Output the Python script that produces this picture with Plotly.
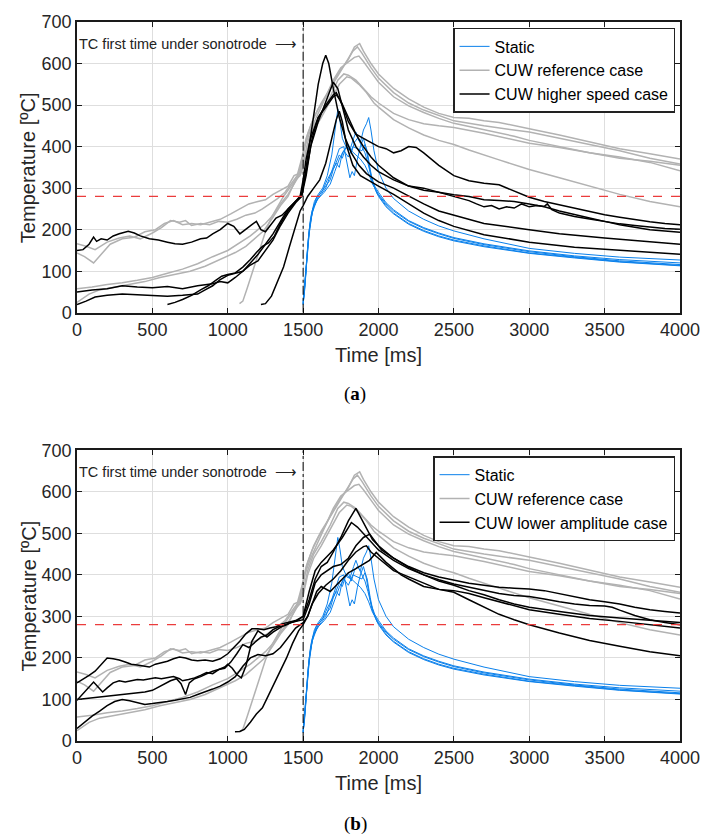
import plotly.graph_objects as go

# ---------------- data (time [ms], temperature [degC]) ----------------
STATIC_1 = [(1500,22),(1512,60),(1530,160),(1550,230),(1575,268),(1600,285),(1630,300),(1660,330),(1690,380),(1710,440),(1730,490),(1745,460),(1760,420),(1790,395),(1820,390),(1850,380),(1880,370),(1910,355),(1935,335),(1960,310),(2000,285),(2050,262),(2100,245),(2200,220),(2300,203),(2400,190),(2500,179),(2700,164),(3000,147),(3300,135),(3600,125),(4000,116)]
STATIC_2 = [(1500,20),(1515,80),(1535,180),(1560,245),(1590,278),(1620,290),(1650,305),(1680,320),(1700,345),(1720,365),(1740,380),(1760,372),(1780,395),(1800,405),(1820,385),(1840,410),(1860,420),(1880,410),(1900,440),(1920,455),(1935,470),(1950,440),(1970,390),(2000,340),(2050,300),(2100,275),(2200,245),(2300,225),(2400,209),(2500,197),(2700,178),(3000,155),(3300,143),(3600,134),(4000,127)]
STATIC_3 = [(1500,25),(1520,110),(1540,200),(1565,250),(1600,280),(1630,295),(1660,320),(1690,340),(1720,360),(1740,350),(1760,385),(1790,400),(1810,392),(1835,420),(1850,435),(1870,415),(1890,400),(1910,385),(1930,360),(1950,330),(1975,305),(2000,290),(2050,265),(2100,248),(2200,222),(2300,205),(2400,192),(2500,181),(2700,166),(3000,149),(3300,137),(3600,128),(4000,120)]
STATIC_4 = [(1500,20),(1518,90),(1540,190),(1560,240),(1590,270),(1620,285),(1650,300),(1680,330),(1710,360),(1740,395),(1770,400),(1790,360),(1810,325),(1825,340),(1840,330),(1860,370),(1880,400),(1900,420),(1915,400),(1935,360),(1955,320),(1980,295),(2000,280),(2050,255),(2100,238),(2200,213),(2300,196),(2400,183),(2500,173),(2700,159),(3000,143),(3300,132),(3600,122),(4000,113)]
STATIC_5 = [(1500,22),(1520,100),(1545,215),(1570,255),(1600,275),(1640,290),(1680,310),(1710,340),(1740,370),(1770,390),(1800,375),(1830,400),(1860,395),(1890,390),(1910,405),(1925,390),(1945,345),(1965,310),(1990,288),(2050,258),(2100,240),(2200,215),(2300,198),(2400,185),(2500,175),(2700,161),(3000,144),(3300,133),(3600,123),(4000,114)]

REF_1 = [(0,166),(60,160),(120,152),(200,170),(280,180),(350,185),(420,178),(500,192),(560,205),(620,222),(680,218),(720,222),(760,210),(820,215),(880,212),(940,220),(1000,218),(1060,225),(1120,235),(1180,240),(1230,250),(1280,262),(1330,275),(1380,290),(1420,310),(1460,330),(1490,370),(1520,420),(1560,460),(1600,490),(1650,520),(1700,555),(1750,585),(1800,610),(1840,640),(1875,648),(1900,630),(1950,600),(2000,575),(2100,540),(2200,515),(2300,495),(2400,480),(2500,470),(2600,468),(2700,462),(2800,458),(2900,450),(3000,443),(3200,428),(3400,412),(3600,395),(3800,383),(4000,370)]
REF_2 = [(0,144),(50,135),(110,120),(160,140),(220,165),(300,178),(380,182),(450,195),(520,200),(580,215),(640,222),(700,212),(760,215),(820,212),(880,218),(950,225),(1020,238),(1080,250),(1140,262),(1200,268),(1250,272),(1300,285),(1350,295),(1400,305),(1440,330),(1470,335),(1500,380),(1530,430),(1570,470),(1620,505),(1680,540),(1740,575),(1790,605),(1830,630),(1860,640),(1890,625),(1950,590),(2000,565),(2100,530),(2200,505),(2300,488),(2400,475),(2500,462),(2700,450),(2900,440),(3000,435),(3200,420),(3400,405),(3600,390),(3800,372),(4000,358)]
REF_3 = [(0,58),(100,62),(200,68),(300,72),(400,78),(500,85),(600,95),(700,105),(800,118),(900,135),(1000,150),(1100,172),(1150,185),(1200,200),(1250,215),(1300,235),(1350,262),(1400,285),(1440,310),(1480,335),(1500,360),(1530,410),(1570,450),(1620,480),(1680,520),(1730,560),(1770,575),(1800,572),(1850,560),(1900,540),(1950,520),(2000,505),(2100,480),(2200,465),(2300,455),(2400,450),(2500,446),(2700,432),(2900,415),(3000,408),(3200,398),(3400,385),(3600,375),(3800,362),(4000,342)]
REF_4 = [(0,25),(80,45),(150,55),(250,62),(350,68),(450,75),(550,85),(650,92),(750,100),(850,112),(950,128),(1050,145),(1120,160),(1180,178),(1240,198),(1300,230),(1350,258),(1400,280),(1450,320),(1480,330),(1500,350),(1530,400),(1570,440),(1620,470),(1680,510),(1740,550),(1790,568),(1820,565),(1870,550),(1920,530),(1970,505),(2000,495),(2100,465),(2200,445),(2300,428),(2400,415),(2500,405),(2600,392),(2800,368),(3000,345),(3200,325),(3400,305),(3600,285),(3800,268),(4000,255)]
REF_5 = [(1078,22),(1100,28),(1130,60),(1170,105),(1210,150),(1250,195),(1290,230),(1330,255),(1370,280),(1410,300),(1450,320),(1480,340),(1510,400),(1550,440),(1600,480),(1650,520),(1700,560),(1750,590),(1800,605),(1840,615),(1870,618),(1900,605),(1950,580),(2000,555),(2100,520),(2200,498),(2300,482),(2400,468),(2500,456),(2700,440),(2900,425),(3000,415),(3200,400),(3400,385),(3600,372),(3800,365),(4000,355)]

SPEED_1 = [(0,150),(40,152),(80,165),(110,182),(130,172),(160,178),(200,175),(240,185),(280,190),(340,196),(380,192),(420,185),(480,178),(540,175),(600,170),(650,166),(700,165),(760,170),(820,178),(860,180),(900,190),(950,200),(1000,215),(1040,208),(1080,190),(1120,200),(1160,212),(1190,220),(1220,200),(1250,195),(1280,210),(1320,228),(1360,235),(1400,250),(1440,265),(1480,280),(1500,320),(1520,370),(1550,420),(1600,470),(1650,500),(1700,525),(1720,530),(1760,500),(1800,460),(1850,430),(1900,420),(1950,410),(2000,400),(2050,395),(2100,385),(2150,390),(2200,400),(2250,398),(2300,385),(2400,355),(2500,330),(2600,318),(2700,312),(2800,308),(2900,292),(3000,278),(3100,268),(3200,260),(3300,252),(3400,244),(3500,236),(3600,230),(3700,224),(3800,219),(3900,215),(4000,212)]
SPEED_2 = [(0,50),(100,55),(200,58),(300,65),(400,62),(500,60),(600,63),(700,58),(800,65),(900,70),(950,75),(1000,72),(1050,85),(1100,100),(1150,115),(1200,125),(1250,150),(1300,175),(1350,210),(1400,240),(1450,265),(1490,280),(1520,330),(1550,400),(1600,460),(1650,510),(1700,555),(1730,540),(1760,500),(1800,440),(1850,400),(1900,375),(1950,355),(2000,340),(2100,320),(2200,305),(2300,300),(2400,290),(2500,280),(2600,270),(2650,262),(2700,255),(2750,258),(2800,250),(2850,255),(2900,252),(2950,262),(3000,255),(3050,258),(3100,256),(3120,262),(3150,248),(3200,240),(3300,232),(3400,226),(3500,220),(3600,214),(3700,210),(3800,206),(3900,203),(4000,201)]
SPEED_3 = [(0,20),(60,28),(120,38),(200,42),(300,45),(400,43),(500,42),(600,40),(700,42),(800,45),(850,55),(900,65),(950,80),(1000,90),(1050,95),(1100,100),(1150,120),(1200,140),(1250,165),(1300,190),(1350,220),(1400,250),(1450,268),(1490,280),(1520,350),(1560,450),(1600,550),(1630,600),(1650,620),(1670,600),(1700,540),(1740,470),(1780,420),(1820,385),(1870,355),(1920,335),(2000,315),(2100,300),(2200,280),(2300,262),(2400,245),(2500,235),(2700,215),(3000,200),(3200,190),(3500,180),(3800,170),(4000,165)]
SPEED_4 = [(600,20),(650,25),(700,32),(760,42),(820,55),(870,65),(920,78),(960,88),(1000,92),(1050,96),(1100,110),(1150,128),(1190,145),(1230,160),(1270,168),(1310,185),(1350,215),(1400,245),(1450,268),(1490,285),(1520,340),(1560,420),(1600,470),(1650,495),(1700,520),(1720,525),(1750,510),(1800,470),(1850,430),(1900,400),(1950,375),(2000,355),(2100,325),(2200,305),(2300,295),(2400,290),(2500,284),(2600,280),(2700,272),(2800,270),(2900,268),(3000,262),(3100,255),(3200,245),(3300,236),(3400,228),(3500,220),(3600,212),(3700,206),(3800,200),(3900,197),(4000,194)]
SPEED_5 = [(1220,20),(1250,22),(1290,40),(1330,75),(1370,110),(1410,160),(1450,210),(1480,245),(1500,258),(1530,280),(1570,300),(1610,320),(1650,360),(1690,420),(1720,465),(1740,485),(1760,460),(1790,400),(1830,355),(1880,330),(1950,315),(2000,305),(2100,285),(2200,262),(2300,240),(2400,222),(2500,208),(2700,188),(3000,170),(3300,158),(3600,150),(4000,141)]

AMP_1 = [(0,140),(40,148),(80,158),(120,168),(160,185),(200,200),(240,198),(280,195),(320,190),(360,185),(400,183),(440,180),(480,178),(520,185),(560,188),(600,192),(640,198),(680,202),(720,200),(760,195),(800,193),(850,195),(900,192),(950,198),(1000,210),(1040,225),(1080,240),(1120,258),(1160,270),(1200,270),(1240,268),(1280,272),(1320,275),(1360,282),(1400,285),(1450,290),(1500,300),(1540,340),(1580,390),(1620,420),(1660,430),(1700,455),(1750,490),(1800,530),(1850,560),(1880,540),(1920,510),(1960,485),(2000,470),(2100,440),(2200,420),(2300,405),(2400,395),(2500,388),(2600,380),(2700,375),(2800,370),(2900,368),(3000,366),(3100,362),(3200,355),(3300,348),(3400,340),(3500,335),(3600,330),(3700,322),(3800,316),(3900,312),(4000,308)]
AMP_2 = [(0,98),(40,115),(80,130),(110,142),(140,130),(170,118),(200,128),(240,140),(280,145),(320,142),(360,145),(400,148),(440,147),(480,150),(520,152),(560,150),(600,152),(640,155),(680,150),(700,145),(740,148),(780,152),(820,158),(860,165),(900,162),(940,172),(980,175),(1020,190),(1060,210),(1100,232),(1140,225),(1180,238),(1220,250),(1260,255),(1300,268),(1340,275),(1380,278),(1420,285),(1460,290),(1500,300),(1540,360),(1580,410),(1620,430),(1660,445),(1700,460),(1760,490),(1820,526),(1860,515),(1900,500),(1950,480),(2000,460),(2100,435),(2200,415),(2300,400),(2400,388),(2500,378),(2600,370),(2700,362),(2800,355),(2900,350),(3000,348),(3100,342),(3200,335),(3300,330),(3400,326),(3500,325),(3550,322),(3600,315),(3700,302),(3800,292),(3900,285),(4000,280)]
AMP_3 = [(0,100),(50,102),(100,104),(150,106),(200,108),(250,110),(300,112),(350,113),(400,115),(450,118),(500,122),(540,130),(580,138),(620,145),(660,150),(690,138),(720,112),(745,140),(780,150),(820,155),(860,162),(900,168),(940,172),(980,178),(1000,185),(1030,175),(1060,160),(1090,152),(1120,180),(1160,240),(1200,265),(1230,258),(1260,250),(1300,262),(1340,272),(1380,280),(1420,285),(1460,288),(1500,292),(1540,330),(1580,380),(1620,400),(1660,410),(1700,420),(1750,425),(1800,440),(1850,470),(1900,490),(1942,498),(1980,480),(2020,460),(2100,440),(2200,418),(2300,400),(2400,385),(2500,375),(2600,362),(2700,352),(2800,340),(2900,330),(3000,322),(3200,312),(3400,302),(3600,296),(3800,290),(4000,285)]
AMP_4 = [(0,30),(50,45),(100,60),(150,72),(200,85),(250,95),(300,100),(350,97),(400,92),(450,88),(500,90),(550,92),(600,95),(650,98),(700,102),(750,105),(800,112),(850,118),(900,125),(950,132),(1000,142),(1050,155),(1100,180),(1150,200),(1200,208),(1250,205),(1300,210),(1350,225),(1400,250),(1450,272),(1500,285),(1530,300),(1560,330),(1600,355),(1650,375),(1700,390),(1750,410),(1800,435),(1850,455),(1900,468),(1920,470),(1950,455),(2000,440),(2050,425),(2100,410),(2200,395),(2300,380),(2400,365),(2500,362),(2600,355),(2700,345),(2800,335),(2900,325),(3000,316),(3200,305),(3400,295),(3600,288),(3800,280),(4000,272)]
AMP_5 = [(1048,22),(1080,23),(1110,28),(1150,45),(1190,65),(1230,80),(1270,110),(1310,140),(1350,170),(1390,200),(1430,235),(1470,265),(1500,280),(1530,300),(1560,330),(1590,360),(1620,372),(1650,365),(1680,360),(1720,375),(1760,390),(1800,405),(1850,415),(1900,425),(1940,435),(1985,454),(2010,445),(2050,430),(2100,415),(2150,400),(2200,390),(2250,380),(2300,372),(2400,365),(2450,362),(2500,358),(2600,340),(2700,322),(2800,305),(2900,292),(3000,280),(3200,260),(3400,242),(3600,228),(3800,215),(4000,205)]

STATIC = [STATIC_1, STATIC_2, STATIC_3, STATIC_4, STATIC_5]
REFERENCE = [REF_1, REF_2, REF_3, REF_4, REF_5]
HIGHER_SPEED = [SPEED_1, SPEED_2, SPEED_3, SPEED_4, SPEED_5]
LOWER_AMP = [AMP_1, AMP_2, AMP_3, AMP_4, AMP_5]

X_TICKS = [0, 500, 1000, 1500, 2000, 2500, 3000, 3500, 4000]
Y_TICKS = [0, 100, 200, 300, 400, 500, 600, 700]
LIMIT_TEMP = 280
SONOTRODE_TIME = 1500

# ---------------- styling ----------------
FONT = "Liberation Sans, Arial, sans-serif"
BLUE = "rgb(10,128,235)"
GRAY = "rgb(178,178,178)"
BLACK = "rgb(0,0,0)"
TXT = "#262626"

fig = go.Figure()

def add_group(curves, name, color, width, xa, ya, legend):
    for i, c in enumerate(curves):
        fig.add_trace(go.Scatter(
            x=[p[0] for p in c], y=[p[1] for p in c], mode="lines",
            line=dict(color=color, width=width), name=name,
            showlegend=(i == 0), legend=legend, legendgroup=name + legend,
            xaxis=xa, yaxis=ya, hoverinfo="skip"))

# top panel
add_group(STATIC, "Static", BLUE, 1, "x", "y", "legend")
add_group(REFERENCE, "CUW reference case", GRAY, 1.5, "x", "y", "legend")
add_group(HIGHER_SPEED, "CUW higher speed case", BLACK, 1.5, "x", "y", "legend")
# bottom panel
add_group(STATIC, "Static", BLUE, 1, "x2", "y2", "legend2")
add_group(REFERENCE, "CUW reference case", GRAY, 1.5, "x2", "y2", "legend2")
add_group(LOWER_AMP, "CUW lower amplitude case", BLACK, 1.5, "x2", "y2", "legend2")

axis_common = dict(
    showline=True, mirror="ticks", linecolor="#1a1a1a", linewidth=1.5,
    ticks="inside", ticklen=5, tickcolor="#1a1a1a", tickwidth=1,
    showgrid=True, gridcolor="rgb(222,222,222)", gridwidth=1,
    zeroline=False, tickfont=dict(family=FONT, size=18, color=TXT),
)

H_TOP = [0.5956, 1.0]
H_BOT = [0.0, 0.4044]

legend_common = dict(xanchor="right", yanchor="top", bgcolor="white",
                     bordercolor="#222", borderwidth=1.5,
                     font=dict(family=FONT, size=16, color="black"),
                     tracegroupgap=0, itemwidth=30)

fig.update_layout(
    width=712, height=837,
    margin=dict(l=77, r=22, t=19, b=96),
    paper_bgcolor="white", plot_bgcolor="white",
    xaxis=dict(domain=[0, 1], range=[0, 4000], tickvals=X_TICKS, anchor="y", **axis_common),
    yaxis=dict(domain=H_TOP, range=[0, 700], tickvals=Y_TICKS, anchor="x", **axis_common),
    xaxis2=dict(domain=[0, 1], range=[0, 4000], tickvals=X_TICKS, anchor="y2", **axis_common),
    yaxis2=dict(domain=H_BOT, range=[0, 700], tickvals=Y_TICKS, anchor="x2", **axis_common),
    legend=dict(x=0.9918, y=0.9917, **legend_common),
    legend2=dict(x=0.9918, y=0.396, **legend_common),
    showlegend=True,
)

for xa, ya in (("x", "y"), ("x2", "y2")):
    fig.add_shape(type="line", xref=xa, yref=ya, x0=0, x1=4000, y0=LIMIT_TEMP, y1=LIMIT_TEMP,
                  line=dict(color="rgb(235,60,60)", width=1.2, dash="dash"), layer="above")
    fig.add_shape(type="line", xref=xa, yref=ya, x0=SONOTRODE_TIME, x1=SONOTRODE_TIME, y0=0, y1=700,
                  line=dict(color="black", width=1, dash="dashdot"), layer="above")
    fig.add_annotation(xref=xa, yref=ya, x=1475, y=648, xanchor="right", yanchor="middle",
                       text="TC first time under sonotrode  \u27f6", showarrow=False,
                       font=dict(family=FONT, size=14.5, color="#222"))

# axis titles and captions
for yc, yt, cap, capy in ((0.5374, 0.7978, "(<b>a</b>)", 0.482), (-0.0582, 0.2022, "(<b>b</b>)", -0.116)):
    fig.add_annotation(xref="paper", yref="paper", x=0.5, y=yc, text="Time [ms]", showarrow=False,
                       xanchor="center", yanchor="middle", font=dict(family=FONT, size=20, color=TXT))
    fig.add_annotation(xref="paper", yref="paper", x=-0.08, y=yt, text="Temperature [\u00baC]",
                       showarrow=False, textangle=-90, xanchor="center", yanchor="middle",
                       font=dict(family=FONT, size=20, color=TXT))
    fig.add_annotation(xref="paper", yref="paper", x=0.4617, y=capy, text=cap, showarrow=False,
                       xanchor="center", yanchor="middle",
                       font=dict(family="Liberation Serif, serif", size=19, color="black"))

fig.write_html("out.html")
